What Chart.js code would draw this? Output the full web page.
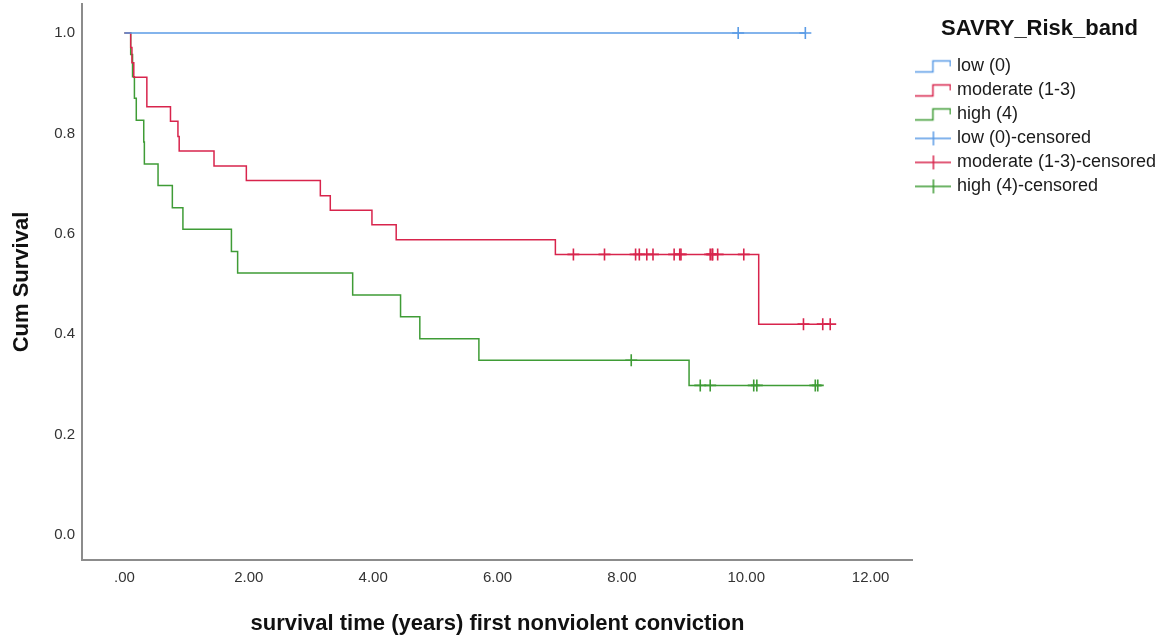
<!DOCTYPE html>
<html>
<head>
<meta charset="utf-8">
<script src="https://cdn.jsdelivr.net/npm/chart.js@4.4.1/dist/chart.umd.min.js"></script>
<style>
  html, body { margin: 0; padding: 0; background: #fff; }
  #wrap { width: 1169px; height: 637px; }
</style>
</head>
<body>
<div id="wrap"><canvas id="chart"></canvas></div>
<script>
// Kaplan-Meier steps: event times (years) and survival after each step
const lowTimes = [0, 10.95];
const lowSurv = [1.0, 1.0];
const modTimes = [0, 0.10, 0.12, 0.15, 0.36, 0.74, 0.86, 0.88, 1.44, 1.96, 3.15, 3.31, 3.98, 4.37, 6.93, 10.20, 11.35];
const modSurv = [1.0, 0.971, 0.941, 0.912, 0.853, 0.824, 0.794, 0.765, 0.735, 0.706, 0.676, 0.647, 0.618, 0.588, 0.559, 0.420, 0.420];
const highTimes = [0, 0.10, 0.13, 0.16, 0.19, 0.31, 0.32, 0.54, 0.77, 0.94, 1.72, 1.82, 3.67, 4.44, 4.75, 5.70, 9.08, 11.22];
const highSurv = [1.0, 0.957, 0.913, 0.870, 0.826, 0.783, 0.739, 0.696, 0.652, 0.609, 0.565, 0.522, 0.478, 0.435, 0.391, 0.348, 0.298, 0.298];

// censored cases
const lowCensTimes = [9.87, 10.95];
const lowCensSurv = [1.0, 1.0];
const modCensTimes = [7.22, 7.72, 8.22, 8.28, 8.40, 8.50, 8.84, 8.93, 8.95, 9.42, 9.45, 9.46, 9.54, 9.96, 10.92, 11.23, 11.35];
const modCensSurv = [0.559, 0.559, 0.559, 0.559, 0.559, 0.559, 0.559, 0.559, 0.559, 0.559, 0.559, 0.559, 0.559, 0.559, 0.420, 0.420, 0.420];
const highCensTimes = [8.15, 9.26, 9.42, 10.12, 10.17, 11.11, 11.15];
const highCensSurv = [0.348, 0.298, 0.298, 0.298, 0.298, 0.298, 0.298];

const groupNames = ['low (0)', 'moderate (1-3)', 'high (4)'];
const xTicks = [0, 2, 4, 6, 8, 10, 12];
const xTickLabels = ['.00', '2.00', '4.00', '6.00', '8.00', '10.00', '12.00'];
const yTicks = [0, 0.2, 0.4, 0.6, 0.8, 1.0];
const yTickLabels = ['0.0', '0.2', '0.4', '0.6', '0.8', '1.0'];

const colors = ['#5a9be6', '#d8244c', '#3f9c36'];
const FONT = '"Liberation Sans", Arial, sans-serif';

function pts(xs, ys) {
  return xs.map((x, i) => ({ x: x, y: ys[i] }));
}

// little canvases used as legend symbols
function stepIcon(color) {
  const c = document.createElement('canvas');
  c.width = 36; c.height = 16;
  const g = c.getContext('2d');
  g.strokeStyle = color; g.lineWidth = 1.5;
  g.beginPath();
  g.moveTo(0, 13.5); g.lineTo(17.5, 13.5); g.lineTo(17.5, 2.5); g.lineTo(35, 2.5); g.lineTo(35, 8);
  g.stroke();
  return c;
}
function crossIcon(color) {
  const c = document.createElement('canvas');
  c.width = 36; c.height = 16;
  const g = c.getContext('2d');
  g.strokeStyle = color; g.lineWidth = 1.5;
  g.beginPath();
  g.moveTo(0, 8); g.lineTo(36, 8);
  g.moveTo(18, 1); g.lineTo(18, 15);
  g.stroke();
  return c;
}
const legendIcons = colors.map(stepIcon).concat(colors.map(crossIcon));

const curves = [[lowTimes, lowSurv], [modTimes, modSurv], [highTimes, highSurv]];
const censored = [[lowCensTimes, lowCensSurv], [modCensTimes, modCensSurv], [highCensTimes, highCensSurv]];

const datasets = [];
curves.forEach((c, i) => {
  datasets.push({
    label: groupNames[i],
    data: pts(c[0], c[1]),
    showLine: true,
    stepped: true,
    borderColor: colors[i],
    backgroundColor: colors[i],
    borderWidth: 1.5,
    pointRadius: 0,
    fill: false
  });
});
censored.forEach((c, i) => {
  datasets.push({
    label: groupNames[i] + '-censored',
    data: pts(c[0], c[1]),
    showLine: false,
    pointStyle: 'cross',
    pointRadius: 6,
    pointHoverRadius: 6,
    borderColor: colors[i],
    backgroundColor: colors[i],
    pointBorderWidth: 1.6
  });
});

const defaultLabels = Chart.defaults.plugins.legend.labels.generateLabels;

new Chart(document.getElementById('chart'), {
  type: 'scatter',
  data: { datasets: datasets },
  options: {
    responsive: true,
    maintainAspectRatio: false,
    animation: false,
    layout: { autoPadding: false, padding: { top: 4, right: 3, bottom: 0, left: 0 } },
    scales: {
      x: {
        type: 'linear',
        min: -0.683,
        max: 12.68,
        afterBuildTicks: s => { s.ticks = xTicks.map(v => ({ value: v })); },
        afterFit: s => { s.height = 77; s.paddingLeft = 0; s.paddingRight = 0; },
        ticks: {
          callback: (v, i) => xTickLabels[i],
          font: { family: FONT, size: 15 },
          color: '#333',
          padding: 9,
          maxRotation: 0
        },
        grid: { display: false, drawTicks: false },
        border: { display: true, color: '#8c8c8c', width: 2 },
        title: {
          display: true,
          text: 'survival time (years) first nonviolent conviction',
          font: { family: FONT, size: 22, weight: 'bold' },
          color: '#111',
          padding: { top: 4, bottom: 0 }
        }
      },
      y: {
        type: 'linear',
        min: -0.0498,
        max: 1.0578,
        afterBuildTicks: s => { s.ticks = yTicks.map(v => ({ value: v })); },
        afterFit: s => { s.width = 82; s.paddingTop = 0; s.paddingBottom = 0; },
        ticks: {
          callback: (v, i) => yTickLabels[i],
          font: { family: FONT, size: 15 },
          color: '#333',
          padding: 7
        },
        grid: { display: false, drawTicks: false },
        border: { display: true, color: '#8c8c8c', width: 2 },
        title: {
          display: true,
          text: 'Cum Survival',
          font: { family: FONT, size: 22, weight: 'bold' },
          color: '#111',
          padding: { top: 9, bottom: 0 }
        }
      }
    },
    plugins: {
      tooltip: { enabled: false },
      legend: {
        position: 'right',
        align: 'start',
        title: {
          display: true,
          text: 'SAVRY_Risk_band',
          font: { family: FONT, size: 22, weight: 'bold' },
          color: '#111',
          padding: { top: 14, bottom: 7 }
        },
        labels: {
          usePointStyle: true,
          pointStyleWidth: 29,
          padding: 6,
          font: { family: FONT, size: 18 },
          color: '#1a1a1a',
          generateLabels: chart => defaultLabels(chart).map((item, i) => Object.assign(item, { pointStyle: legendIcons[i] }))
        }
      }
    }
  }
});
</script>
</body>
</html>
